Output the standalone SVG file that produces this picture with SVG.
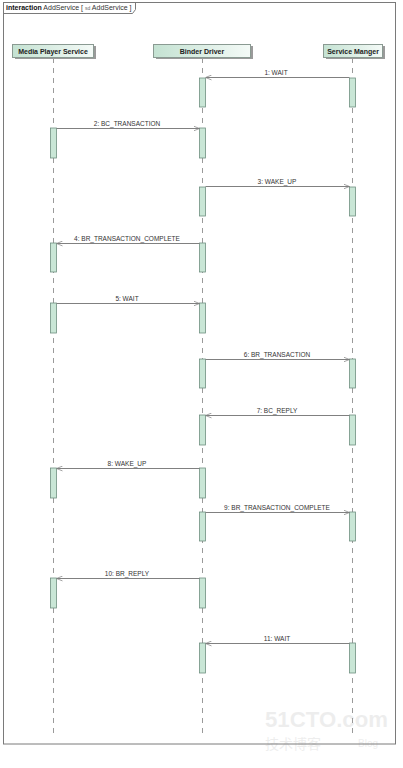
<svg xmlns="http://www.w3.org/2000/svg" width="403" height="768" viewBox="0 0 403 768">
<defs>
<linearGradient id="hg" x1="0" y1="0" x2="1" y2="0">
<stop offset="0" stop-color="#c4e2d2"/>
<stop offset="1" stop-color="#f4faf7"/>
</linearGradient>
<marker id="ah" viewBox="0 0 10 10" refX="10" refY="5" markerWidth="6" markerHeight="6" orient="auto" markerUnits="userSpaceOnUse">
<path d="M0,1 L10,5 L0,9" fill="none" stroke="#808080" stroke-width="1.2"/>
</marker>
</defs>
<style>
.frame{fill:none;stroke:#7a7a7a;stroke-width:1}
.head{fill:url(#hg);stroke:#8a9a92;stroke-width:1}
.shadow{fill:#9a9a9a}
.hl{font-family:"Liberation Sans",Arial,sans-serif;font-size:7px;font-weight:bold;fill:#222;text-anchor:middle}
.life{stroke:#9a9a9a;stroke-width:1;stroke-dasharray:5,5}
.act{fill:#c9e6d6;stroke:#6f8f80;stroke-width:0.8}
.msg{stroke:#808080;stroke-width:1;fill:none;marker-end:url(#ah)}
.ml{font-family:"Liberation Sans",Arial,sans-serif;font-size:6.5px;fill:#333;text-anchor:middle}
.tt{font-family:"Liberation Sans",Arial,sans-serif;font-size:7px;fill:#333}
</style>
<rect x="0" y="0" width="403" height="768" fill="#ffffff"/>
<g id="frame">
<rect class="frame" x="3.5" y="2.5" width="392" height="741.5"/>
<path class="frame" d="M3.5,13.5 L132.5,13.5 L135.5,9.5 L135.5,2.5"/>
<text class="tt" x="6" y="10"><tspan font-weight="bold" fill="#111">interaction</tspan> AddService [ <tspan font-size="5" fill="#666">sd</tspan> AddService ]</text>
</g>
<g id="lifelines">
<line class="life" x1="53.5" y1="58" x2="53.5" y2="735"/>
<line class="life" x1="202.5" y1="58" x2="202.5" y2="735"/>
<line class="life" x1="352.5" y1="58" x2="352.5" y2="735"/>
</g>
<g id="node-mps">
<rect class="shadow" x="15" y="46" width="81" height="13"/>
<rect class="head" x="12.5" y="44.5" width="81" height="13"/>
<text class="hl" x="53" y="53.5">Media Player Service</text>
</g>
<g id="node-binder">
<rect class="shadow" x="156" y="46" width="97" height="13"/>
<rect class="head" x="153.5" y="44.5" width="97" height="13"/>
<text class="hl" x="202" y="53.5">Binder Driver</text>
</g>
<g id="node-sm">
<rect class="shadow" x="326" y="46" width="59" height="13"/>
<rect class="head" x="323.5" y="44.5" width="59" height="13"/>
<text class="hl" x="353" y="53.5">Service Manger</text>
</g>
<g id="activations">
<rect class="act" x="199.5" y="78" width="6" height="29"/>
<rect class="act" x="349.5" y="78" width="6" height="29"/>
<rect class="act" x="50.5" y="128" width="6" height="30"/>
<rect class="act" x="199.5" y="128" width="6" height="30"/>
<rect class="act" x="199.5" y="187" width="6" height="29"/>
<rect class="act" x="349.5" y="187" width="6" height="29"/>
<rect class="act" x="50.5" y="243" width="6" height="29"/>
<rect class="act" x="199.5" y="243" width="6" height="29"/>
<rect class="act" x="50.5" y="303" width="6" height="30"/>
<rect class="act" x="199.5" y="303" width="6" height="30"/>
<rect class="act" x="199.5" y="359" width="6" height="29"/>
<rect class="act" x="349.5" y="359" width="6" height="29"/>
<rect class="act" x="199.5" y="415" width="6" height="30"/>
<rect class="act" x="349.5" y="415" width="6" height="30"/>
<rect class="act" x="50.5" y="468" width="6" height="30"/>
<rect class="act" x="199.5" y="468" width="6" height="30"/>
<rect class="act" x="199.5" y="512" width="6" height="29"/>
<rect class="act" x="349.5" y="512" width="6" height="29"/>
<rect class="act" x="50.5" y="578" width="6" height="30"/>
<rect class="act" x="199.5" y="578" width="6" height="30"/>
<rect class="act" x="199.5" y="643" width="6" height="30"/>
<rect class="act" x="349.5" y="643" width="6" height="30"/>
</g>
<g id="connectors">
<line class="msg" x1="349.5" y1="77.5" x2="205.5" y2="77.5"/>
<text class="ml" x="276" y="75">1: WAIT</text>
<line class="msg" x1="56.5" y1="128.5" x2="199.5" y2="128.5"/>
<text class="ml" x="127" y="126">2: BC_TRANSACTION</text>
<line class="msg" x1="205.5" y1="186.5" x2="349.5" y2="186.5"/>
<text class="ml" x="277" y="184">3: WAKE_UP</text>
<line class="msg" x1="199.5" y1="243.5" x2="56.5" y2="243.5"/>
<text class="ml" x="127" y="241">4: BR_TRANSACTION_COMPLETE</text>
<line class="msg" x1="56.5" y1="303.5" x2="199.5" y2="303.5"/>
<text class="ml" x="127" y="301">5: WAIT</text>
<line class="msg" x1="205.5" y1="359.5" x2="349.5" y2="359.5"/>
<text class="ml" x="277" y="357">6: BR_TRANSACTION</text>
<line class="msg" x1="349.5" y1="415.5" x2="205.5" y2="415.5"/>
<text class="ml" x="277" y="413">7: BC_REPLY</text>
<line class="msg" x1="199.5" y1="468.5" x2="56.5" y2="468.5"/>
<text class="ml" x="127" y="466">8: WAKE_UP</text>
<line class="msg" x1="205.5" y1="512.5" x2="349.5" y2="512.5"/>
<text class="ml" x="277" y="510">9: BR_TRANSACTION_COMPLETE</text>
<line class="msg" x1="199.5" y1="578.5" x2="56.5" y2="578.5"/>
<text class="ml" x="127" y="576">10: BR_REPLY</text>
<line class="msg" x1="349.5" y1="643.5" x2="205.5" y2="643.5"/>
<text class="ml" x="277" y="641">11: WAIT</text>
</g>
<g id="watermark" opacity="0.14">
<text x="265" y="727" font-family="'Liberation Sans',Arial,sans-serif" font-size="22" font-weight="bold" fill="#888" textLength="123" lengthAdjust="spacingAndGlyphs">51CTO.com</text>
<text x="265" y="749" font-family="'Noto Sans CJK SC',sans-serif" font-size="14" fill="#888">技术博客</text>
<text x="358" y="747" font-family="'Liberation Sans',Arial,sans-serif" font-size="10" fill="#888">Blog</text>
</g>
</svg>
